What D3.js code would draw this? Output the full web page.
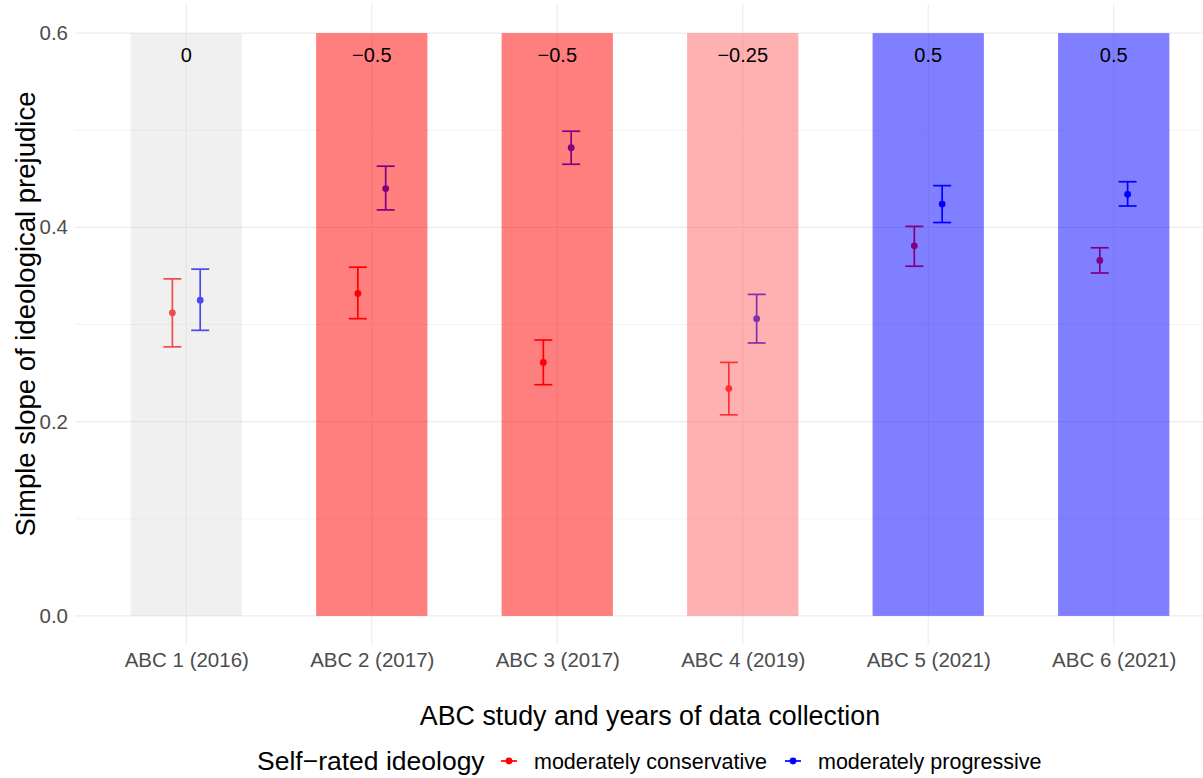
<!DOCTYPE html>
<html>
<head>
<meta charset="utf-8">
<script src="https://cdn.jsdelivr.net/npm/d3@7"></script>
<style>
  html, body { margin: 0; padding: 0; background: #ffffff; }
  svg { display: block; font-family: "Liberation Sans", Arial, Helvetica, sans-serif; }
</style>
</head>
<body>
<svg id="chart" width="1203" height="778"></svg>
<script>
// Studies and the ideological lean of each sample
const studies = ["ABC 1 (2016)", "ABC 2 (2017)", "ABC 3 (2017)", "ABC 4 (2019)", "ABC 5 (2021)", "ABC 6 (2021)"];
const sampleLean = [0, -0.5, -0.5, -0.25, 0.5, 0.5];

// Simple slopes with 95% interval bounds
const conservativeEst  = [0.312, 0.332, 0.261, 0.234, 0.381, 0.366];
const conservativeLow  = [0.277, 0.306, 0.238, 0.207, 0.360, 0.353];
const conservativeHigh = [0.347, 0.359, 0.284, 0.261, 0.401, 0.379];

const progressiveEst  = [0.325, 0.440, 0.482, 0.306, 0.424, 0.434];
const progressiveLow  = [0.294, 0.418, 0.465, 0.281, 0.405, 0.422];
const progressiveHigh = [0.357, 0.463, 0.499, 0.331, 0.443, 0.447];

const yTicks = [0, 0.2, 0.4, 0.6];
const yMinorTicks = [0.1, 0.3, 0.5];
const groupLabels = ["moderately conservative", "moderately progressive"];

const groups = [
  { name: groupLabels[0], color: "#ff0000", est: conservativeEst, low: conservativeLow, high: conservativeHigh, side: -1 },
  { name: groupLabels[1], color: "#0000ff", est: progressiveEst, low: progressiveLow, high: progressiveHigh, side: 1 }
];

const svg = d3.select("#chart");
const panel = { left: 75, right: 1225, top: 4, bottom: 645 };

const x = d3.scalePoint().domain(studies).range([panel.left, panel.right]).padding(0.6);
const step = x.step();
const y = d3.scaleLinear().domain([-0.03, 0.63]).range([panel.bottom, panel.top]);

const leanFill = d3.scaleLinear()
  .domain([-0.5, -0.25, 0, 0.5])
  .range(["#ff0000", "#ff6262", "#d4d4d4", "#0000ff"]);
const leanOpacity = v => (v === 0 ? 0.35 : 0.5);

// Grid
const grid = svg.append("g");
grid.selectAll(".minor").data(yMinorTicks).join("line")
  .attr("x1", panel.left).attr("x2", panel.right)
  .attr("y1", d => y(d)).attr("y2", d => y(d))
  .attr("stroke", "#ebebeb").attr("stroke-width", 0.6);
grid.selectAll(".major").data(yTicks).join("line")
  .attr("x1", panel.left).attr("x2", panel.right)
  .attr("y1", d => y(d)).attr("y2", d => y(d))
  .attr("stroke", "#ebebeb").attr("stroke-width", 1.1);
grid.selectAll(".vmajor").data(studies).join("line")
  .attr("x1", d => x(d)).attr("x2", d => x(d))
  .attr("y1", panel.top).attr("y2", panel.bottom)
  .attr("stroke", "#ebebeb").attr("stroke-width", 1.1);

// Error bars and point estimates
const dodge = 0.075 * step;
const capHalf = 9;
groups.forEach(g => {
  const layer = svg.append("g");
  studies.forEach((s, i) => {
    const cx = x(s) + g.side * dodge;
    layer.append("line")
      .attr("x1", cx).attr("x2", cx)
      .attr("y1", y(g.low[i])).attr("y2", y(g.high[i]))
      .attr("stroke", g.color).attr("stroke-width", 1.7);
    [g.low[i], g.high[i]].forEach(v => {
      layer.append("line")
        .attr("x1", cx - capHalf).attr("x2", cx + capHalf)
        .attr("y1", y(v)).attr("y2", y(v))
        .attr("stroke", g.color).attr("stroke-width", 1.7);
    });
    layer.append("circle")
      .attr("cx", cx).attr("cy", y(g.est[i])).attr("r", 3.4)
      .attr("fill", g.color);
  });
});

// Translucent sample-lean bars
const barW = 0.6 * step;
svg.append("g").selectAll("rect").data(studies).join("rect")
  .attr("x", d => x(d) - barW / 2)
  .attr("width", barW)
  .attr("y", y(0.6))
  .attr("height", y(0) - y(0.6))
  .attr("fill", (d, i) => leanFill(sampleLean[i]))
  .attr("fill-opacity", (d, i) => leanOpacity(sampleLean[i]));

// Lean value labels
const fmt = d3.format("");
svg.append("g").selectAll("text").data(studies).join("text")
  .attr("x", d => x(d))
  .attr("y", y(0.578))
  .attr("text-anchor", "middle")
  .attr("dominant-baseline", "central")
  .attr("font-size", 20)
  .attr("fill", "#000")
  .text((d, i) => fmt(sampleLean[i]));

// Axes
const yAxis = svg.append("g")
  .attr("transform", `translate(${panel.left},0)`)
  .call(d3.axisLeft(y).tickValues(yTicks).tickFormat(d3.format(".1f")).tickSize(0).tickPadding(7));
yAxis.select(".domain").remove();
yAxis.selectAll("text").attr("font-size", 20.5).attr("fill", "#4d4d4d").attr("font-family", null);

const xAxis = svg.append("g")
  .attr("transform", `translate(0,${panel.bottom})`)
  .call(d3.axisBottom(x).tickSize(0).tickPadding(7));
xAxis.select(".domain").remove();
xAxis.selectAll("text").attr("font-size", 20.5).attr("fill", "#4d4d4d").attr("font-family", null);

// Axis titles
svg.append("text")
  .attr("x", (panel.left + panel.right) / 2)
  .attr("y", 725)
  .attr("text-anchor", "middle")
  .attr("font-size", 26.8)
  .attr("fill", "#000")
  .text("ABC study and years of data collection");

svg.append("text")
  .attr("transform", `translate(35,314) rotate(-90)`)
  .attr("text-anchor", "middle")
  .attr("font-size", 27.5)
  .attr("fill", "#000")
  .text("Simple slope of ideological prejudice");

// Legend
const legend = svg.append("g");
legend.append("text")
  .attr("x", 257).attr("y", 770)
  .attr("font-size", 26.5).attr("fill", "#000")
  .text("Self\u2212rated ideology");

const keyX = [509, 793];
groups.forEach((g, i) => {
  const k = legend.append("g").attr("transform", `translate(${keyX[i]},761)`);
  k.append("line").attr("x1", -8).attr("x2", 8).attr("y1", 0).attr("y2", 0)
    .attr("stroke", g.color).attr("stroke-width", 1.7);
  k.append("circle").attr("r", 3.4).attr("fill", g.color);
  legend.append("text")
    .attr("x", keyX[i] + 25).attr("y", 769)
    .attr("font-size", 21.5).attr("fill", "#000")
    .text(g.name);
});
</script>
</body>
</html>
